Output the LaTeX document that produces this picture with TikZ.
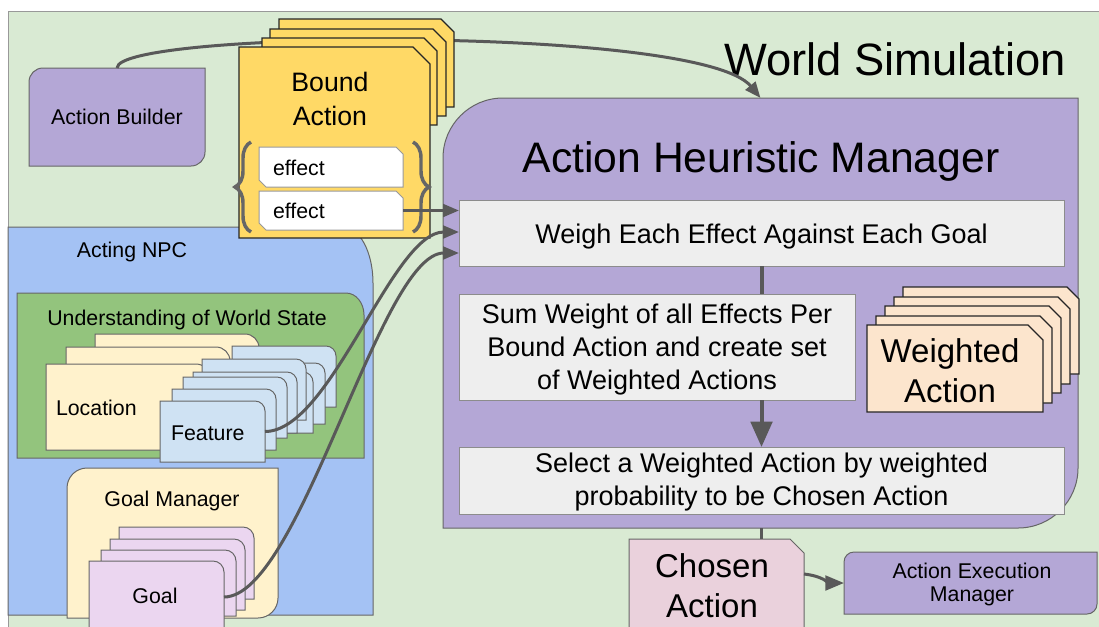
\documentclass[tikz,border=0pt]{standalone}
\usepackage{fontspec}
\setmainfont{Liberation Sans}
\usetikzlibrary{fit,calc,decorations.pathreplacing,arrows.meta}

\definecolor{bggreen}{HTML}{D9EAD3}
\definecolor{frameGray}{HTML}{999999}
\definecolor{purp}{HTML}{B4A7D6}
\definecolor{gold}{HTML}{FFD966}
\definecolor{npcblue}{HTML}{A4C2F4}
\definecolor{wsgreen}{HTML}{93C47D}
\definecolor{cream}{HTML}{FFF2CC}
\definecolor{paleblue}{HTML}{CFE2F3}
\definecolor{lilac}{HTML}{EBD6F0}
\definecolor{rosy}{HTML}{EAD1DC}
\definecolor{peach}{HTML}{FCE5CD}
\definecolor{panelGray}{HTML}{EEEEEE}
\definecolor{lineGray}{HTML}{666666}
\definecolor{stepLine}{HTML}{8C8C8C}
\definecolor{darkLine}{HTML}{262626}
\definecolor{wireGray}{HTML}{595959}

% rectangle with rounded top-left and bottom-right corners (y grows downwards)
\newcommand\tlbrpath[6]{%
  \path[#1] (#2,{(#3+#5)/2}) -- (#2,{#3+#6})
    .. controls (#2,{#3+0.448*#6}) and ({#2+0.448*#6},#3) .. ({#2+#6},#3)
    -- (#4,#3) -- (#4,{#5-#6})
    .. controls (#4,{#5-0.448*#6}) and ({#4-0.448*#6},#5) .. ({#4-#6},#5)
    -- (#2,#5) -- cycle;}
% rectangle with a rounded top-right corner (radii rx, ry)
\newcommand\trpath[7]{%
  \path[#1] (#2,#5) -- (#2,#3) -- ({#4-#6},#3)
    .. controls ({#4-0.448*#6},#3) and (#4,{#3+0.448*#7}) .. (#4,{#3+#7})
    -- (#4,#5) -- cycle;}
% card with a snipped top-right corner
\newcommand\snippath[6]{%
  \path[#1] (#2,#3) -- ({#4-#6},#3) -- (#4,{#3+#6}) -- (#4,#5) -- (#2,#5) -- cycle;}
% tag with snipped top-right and bottom-left corners
\newcommand\tagpath[6]{%
  \path[#1] (#2,#3) -- ({#4-#6},#3) -- (#4,{#3+#6}) -- (#4,#5) -- ({#2+#6},#5) -- (#2,{#5-#6}) -- cycle;}

\begin{document}
\begin{tikzpicture}[x=0.75pt, y=-0.75pt,
  every node/.style={inner sep=0pt, outer sep=0pt},
  purplebox/.style={fill=purp, draw=lineGray, line width=0.75pt},
  goldcard/.style={fill=gold, draw=darkLine, line width=0.9pt},
  tagbox/.style={fill=white, draw=frameGray, line width=0.75pt},
  npcbox/.style={fill=npcblue, draw=lineGray, line width=0.75pt},
  wsbox/.style={fill=wsgreen, draw=lineGray, line width=0.75pt},
  creambox/.style={fill=cream, draw=lineGray, line width=0.75pt},
  featcard/.style={fill=paleblue, draw=lineGray, line width=0.75pt},
  goalcard/.style={fill=lilac, draw=lineGray, line width=0.75pt},
  stepbox/.style={fill=panelGray, draw=stepLine, line width=0.75pt},
  peachcard/.style={fill=peach, draw=darkLine, line width=0.9pt},
  rosycard/.style={fill=rosy, draw=lineGray, line width=0.75pt},
  wire/.style={draw=wireGray, line width=2.25pt},
  smalltip/.style={-{Triangle[length=12pt,width=9.5pt]}},
  curly/.style={draw=lineGray, line width=2.6pt, decorate, decoration={brace, amplitude=12pt}},
  fsA/.style={font=\fontsize{16}{17.25}\selectfont},
  fsB/.style={font=\fontsize{20}{25.5}\selectfont},
  fsC/.style={font=\fontsize{20.25}{24.4}\selectfont},
  fsD/.style={font=\fontsize{24.75}{30}\selectfont},
  fsE/.style={font=\fontsize{32}{38}\selectfont},
  fsF/.style={font=\fontsize{34}{40}\selectfont},
]
\useasboundingbox (0,0) rectangle (1099,626);
\fill[white] (0,0) rectangle (1099,626);
\clip (0,0) rectangle (1099,626);

% world panel
\path[fill=bggreen, draw=frameGray, line width=0.75pt] (8,11) rectangle (1115,645);
\node[fsF, anchor=base] (world) at (895,75) {World Simulation};

% action builder
\tlbrpath{purplebox}{29}{68}{205}{166}{14}
\node[fit={(29,68) (205,166)}] (builder) {};
\node[fsA, anchor=base] (buildertext) at (117,124) {Action Builder};

% action heuristic manager
\tlbrpath{purplebox}{443}{98}{1078}{528}{60}
\node[fit={(443,98) (1078,528)}] (ahm) {};
\node[fsE, anchor=base] (ahmtitle) at (761,172) {Action Heuristic Manager};

\path[stepbox] (459,200) rectangle (1064,266);
\node[fit={(459,200) (1064,266)}] (weigh) {};
\node[fsC, anchor=base] (weightext) at (761.5,243) {Weigh Each Effect Against Each Goal};
\path[stepbox] (459,294) rectangle (855,400);
\node[fit={(459,294) (855,400)}] (sum) {};
\node[fsC, align=center] (sumtext) at (657,349.5) {Sum Weight of all Effects Per\\Bound Action and create set\\of Weighted Actions};
\path[stepbox] (459,447) rectangle (1064,514);
\node[fit={(459,447) (1064,514)}] (select) {};
\node[fsC, align=center] (selecttext) at (761.5,482) {Select a Weighted Action by weighted\\probability to be Chosen Action};

\draw[wire, line width=3pt] (weigh.south) -- (weigh.south |- sum.north);
\draw[wire, line width=3pt, -{Triangle[length=19pt,width=16pt]}] (select.north |- sum.south) -- (select.north);

% weighted action stack
\foreach \wx/\wy in {903/287, 894/297, 885/306, 876/316}
  \snippath{peachcard}{\wx}{\wy}{\wx+176}{\wy+87}{12};
\snippath{peachcard}{867}{325}{1043}{412}{15}
\node[fit={(867,325) (1043,412)}] (weighted) {};
\node[fsD, align=center] (weightedtext) at (950,371) {Weighted\\Action};

% acting NPC
\trpath{npcbox}{8}{227}{373}{615}{30}{56}
\node[fsA, anchor=base] (npc) at (132,257) {Acting NPC};

\trpath{wsbox}{17}{293}{364}{458}{18}{22}
\node[fsA, anchor=base] (ws) at (187,325) {Understanding of World State};

\foreach \lx/\ly in {95/334, 66/347, 46/364}
  \trpath{creambox}{\lx}{\ly}{\lx+164}{\ly+86}{14}{14};
\node[fsA, anchor=base west] (location) at (56,415) {Location};

\foreach \fx/\fy in {232/346, 221/363, 209/372, 202/359, 193/372, 183/377, 172/389}
  \trpath{featcard}{\fx}{\fy}{\fx+104}{\fy+61}{10}{10};
\trpath{featcard}{160}{401}{265}{462}{10}{10}
\node[fit={(160,401) (265,462)}] (feature) {};
\node[fsA, anchor=base west] (featuretext) at (171,440) {Feature};

\tlbrpath{creambox}{67}{468}{278}{618}{20}
\node[fsA, anchor=base] (goalmgr) at (172,506) {Goal Manager};

\trpath{goalcard}{119}{527}{254}{599}{11}{11}
\trpath{goalcard}{110}{539}{245}{610}{11}{11}
\trpath{goalcard}{101}{550}{236}{616}{11}{11}
\trpath{goalcard}{89}{561}{224}{633}{11}{11}
\node[fit={(89,561) (224,633)}] (goal) {};
\node[fsA, anchor=base] (goaltext) at (155,603) {Goal};

% builder feeds the manager (passes behind the bound action cards)
\draw[wire, smalltip] (builder.north) .. controls +(0,-38) and +(-60,-73) .. (ahm.north);

% bound action stack
\snippath{goldcard}{279}{19}{454}{107}{13}
\snippath{goldcard}{270}{29}{446}{116}{13}
\snippath{goldcard}{262}{38}{437}{125}{13}
\snippath{goldcard}{239}{47}{430}{238}{17}
\node[fsB, align=center] (bound) at (330,99) {Bound\\Action};

\draw[curly] (251,232) -- (251,142);
\draw[curly] (413,142) -- (413,232);

\tagpath{tagbox}{259}{147}{403}{187}{7}
\node[fit={(259,147) (403,187)}] (eff1) {};
\node[fsA, anchor=base west] (eff1text) at (273,175) {effect};
\tagpath{tagbox}{259}{191}{403}{230}{7}
\node[fit={(259,191) (403,230)}] (eff2) {};
\node[fsA, anchor=base west] (eff2text) at (273,218) {effect};

% inputs of the weighing step
\draw[wire, smalltip] (eff2.east) -- (eff2.east -| weigh.west);
\draw[wire, smalltip] (feature.east) .. controls +(66,0) and +(-67,0) .. ([yshift=0.75pt]weigh.west);
\draw[wire, smalltip] (goal.east) .. controls +(76,0) and +(-79,0) .. ([yshift=-15pt]weigh.west);

% chosen action and execution
\snippath{rosycard}{629}{539}{804}{633}{14}
\node[fit={(629,539) (804,633)}] (chosen) {};
\node[fsD, align=center] (chosentext) at (712,586) {Chosen\\Action};
\draw[wire] (select.south |- ahm.south) -- (select.south |- chosen.north);

\tlbrpath{purplebox}{844}{552}{1097}{614}{10}
\node[fit={(844,552) (1097,614)}] (aem) {};
\node[fsA, align=center] (aemtext) at (972,584) {Action Execution\\Manager};

\draw[wire, -{Triangle[length=14pt,width=11pt]}] ([yshift=9pt]chosen.east) .. controls +(18,2) and +(-14,0) .. (aem.west);
\end{tikzpicture}
\end{document}
